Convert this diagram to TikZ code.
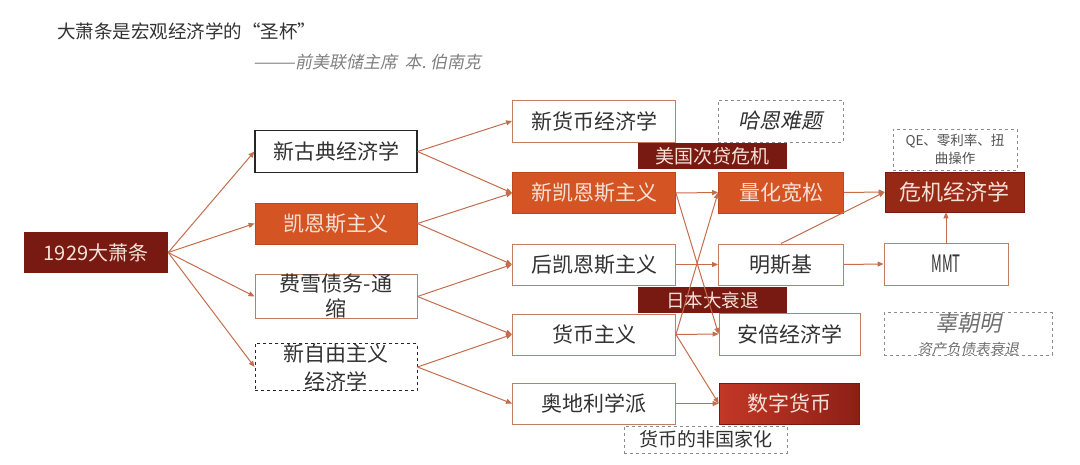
\documentclass[tikz,border=0pt]{standalone}
\usepackage{fontspec}
\setmainfont{Noto Sans CJK SC}
\newfontfamily\itfont[FakeSlant=0.2]{Noto Sans CJK SC}
\usetikzlibrary{arrows.meta}
\definecolor{orangef}{RGB}{212,84,36}
\definecolor{oranged}{RGB}{190,70,30}
\definecolor{darkr}{RGB}{120,26,18}
\definecolor{crisis}{RGB}{150,40,22}
\definecolor{lightt}{RGB}{245,225,215}
\definecolor{boxline}{RGB}{192,125,95}
\definecolor{edgec}{RGB}{196,108,76}
\definecolor{txt}{RGB}{50,50,50}
\definecolor{dgray}{RGB}{140,140,140}
\tikzset{
  x=1pt, y=-1pt,
  base/.style={rectangle, inner sep=0pt, align=center, font=\fontsize{21}{25}\selectfont},
  wbox/.style={base, draw=boxline, line width=0.9pt, fill=white, text=txt},
  obox/.style={base, draw=oranged, line width=0.8pt, fill=orangef, text=lightt},
  rbar/.style={base, fill=darkr, text=lightt},
  dbox/.style={base, draw=dgray, dashed, line width=0.8pt, text=txt},
  link/.style={draw=edgec, line width=1pt, -{Triangle[length=6pt,width=5pt]}},
}
\begin{document}
\begin{tikzpicture}
\useasboundingbox (0,0) rectangle (1080,465);
% title
\node[anchor=west, text=txt, font=\fontsize{18.5}{22}\selectfont, inner sep=0pt] (title) at (57,31) {大萧条是宏观经济学的“圣杯”};
\node[anchor=west, text=gray, font=\itfont\fontsize{17}{20}\selectfont, inner sep=0pt] (sub) at (253,62) {———前美联储主席\ \ 本.\ 伯南克};
% column 1
\node[rbar, minimum width=144pt, minimum height=41pt, font=\fontsize{20}{24}\selectfont] (gd) at (96,252.5) {1929大萧条};
% column 2
\node[wbox, draw=black!85, line width=1.2pt, minimum width=162pt, minimum height=42pt] (nc) at (336,151.5) {新古典经济学};
\node[obox, minimum width=162pt, minimum height=41pt] (kn) at (336,223.5) {凯恩斯主义};
\node[wbox, minimum width=162pt, minimum height=41pt] (fi) at (336,296.5) {费雪债务-通\\缩};
\node[wbox, draw=black!85, dashed, minimum width=162pt, minimum height=42pt, font=\fontsize{21}{28}\selectfont] (nl) at (336,367) {新自由主义\\经济学};
% column 3
\node[wbox, minimum width=163pt, minimum height=42pt] (nm) at (594,121) {新货币经济学};
\node[obox, minimum width=163pt, minimum height=41pt] (nk) at (594,193) {新凯恩斯主义};
\node[wbox, minimum width=163pt, minimum height=41pt] (pk) at (594,264.5) {后凯恩斯主义};
\node[wbox, minimum width=163pt, minimum height=41pt] (mo) at (594,334.5) {货币主义};
\node[wbox, minimum width=163pt, minimum height=41pt] (au) at (594,403.5) {奥地利学派};
% column 4
\node[dbox, minimum width=125pt, minimum height=42pt, font=\itfont\fontsize{21}{25}\selectfont] (hahn) at (780.5,121) {哈恩难题};
\node[rbar, minimum width=149pt, minimum height=26pt, font=\fontsize{19}{22}\selectfont] (us) at (712.5,156) {美国次贷危机};
\node[obox, minimum width=125pt, minimum height=41pt] (qe) at (781,192.5) {量化宽松};
\node[wbox, minimum width=125pt, minimum height=41pt] (mi) at (781,264.5) {明斯基};
\node[rbar, minimum width=149pt, minimum height=26pt, font=\fontsize{18.5}{22}\selectfont] (jp) at (712.5,300) {日本大衰退};
\node[wbox, minimum width=141pt, minimum height=42pt] (ab) at (789.5,334) {安倍经济学};
\node[base, draw=darkr, line width=0.6pt, left color={rgb,255:red,195;green,55;blue,38}, right color={rgb,255:red,140;green,32;blue,22}, text=lightt, minimum width=140pt, minimum height=41pt] (dc) at (789,403.5) {数字货币};
\node[dbox, minimum width=163pt, minimum height=27pt, font=\fontsize{19}{22}\selectfont] (den) at (705.5,439.5) {货币的非国家化};
% column 5
\node[dbox, minimum width=124pt, minimum height=41pt, text=txt!85, font=\fontsize{13.5}{18}\selectfont] (qetext) at (955,149.5) {QE、零利率、扭\\曲操作};
\node[base, fill=crisis, draw=darkr, line width=0.6pt, text=lightt, minimum width=139pt, minimum height=40pt, font=\fontsize{22}{26}\selectfont] (ce) at (954.5,192) {危机经济学};
\node[wbox, minimum width=124pt, minimum height=42pt, font=\fontsize{24}{26}\selectfont] (mmt) at (946,264) {\scalebox{0.55}[1]{MMT}};
\node[dbox, minimum width=168pt, minimum height=42pt, text=txt!70] (koo) at (968,334) {{\itfont\fontsize{22}{22}\selectfont 辜朝明}\\[-2pt]{\itfont\fontsize{14.5}{16}\selectfont 资产负债表衰退}};
% connectors
\draw[link] (gd.east) -- (nc.west);
\draw[link] (gd.east) -- (kn.west);
\draw[link] (gd.east) -- (fi.west);
\draw[link] (gd.east) -- (nl.west);
\draw[link] (nc.east) -- (nm.west);
\draw[link] (nc.east) -- (nk.west);
\draw[link] (kn.east) -- (nk.west);
\draw[link] (kn.east) -- (pk.west);
\draw[link] (fi.east) -- (pk.west);
\draw[link] (fi.east) -- (mo.west);
\draw[link] (nl.east) -- (mo.west);
\draw[link] (nl.east) -- (au.west);
\draw[link] (nk.east) -- (qe.west);
\draw[link] (nk.east) -- (ab.west);
\draw[link] (pk.east) -- (mi.west);
\draw[link] (mo.east) -- (qe.west);
\draw[link] (mo.east) -- (ab.west);
\draw[link] (mo.east) -- (dc.west);
\draw[link] (au.east) -- (dc.west);
\draw[link] (qe.east) -- (ce.west);
\draw[link] (mi.north) -- (ce.west);
\draw[link] (mi.east) -- (mmt.west);
\draw[link] (mmt.north) -- (mmt.north |- ce.south);
\end{tikzpicture}
\end{document}
